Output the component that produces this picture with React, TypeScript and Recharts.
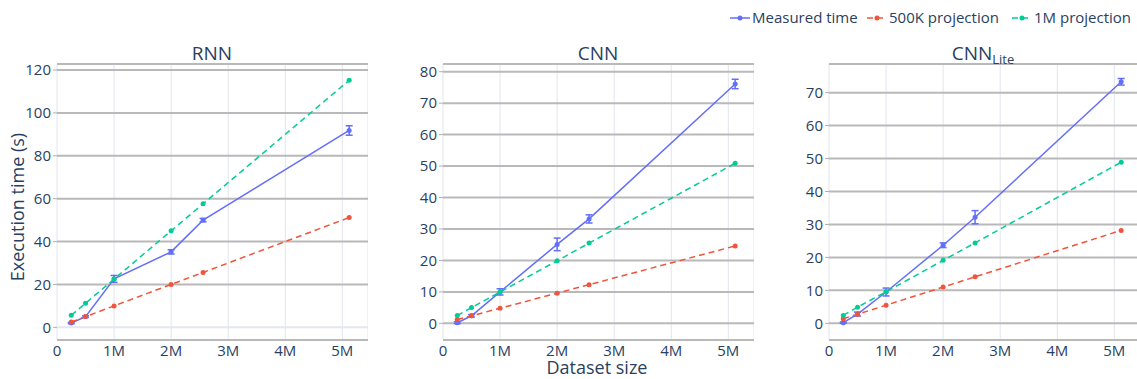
import React from 'react';
import { LineChart, Line, XAxis, YAxis, CartesianGrid, ErrorBar } from 'recharts';

// ---- data ----
const datasetSizesM = [0.25, 0.5, 1, 2, 2.56, 5.12];
const xTicks = [0, 1, 2, 3, 4, 5];
const seriesNames = ['Measured time', '500K projection', '1M projection'];
const seriesColors = ['#636efa', '#EF553B', '#00cc96'];
const subplotTitles = ['RNN', 'CNN', 'CNN'];
const liteSubscript = 'Lite';
const yAxisTitle = 'Execution time (s)';
const xAxisTitle = 'Dataset size';

const rnnMeasured = [2.0, 5.0, 22.6, 35.2, 50.0, 91.8];
const rnnError = [0.3, 0.4, 1.6, 1.0, 0.8, 2.2];
const rnn500K = [2.5, 5.0, 10.0, 20.0, 25.6, 51.2];
const rnn1M = [5.63, 11.25, 22.5, 45.0, 57.6, 115.2];
const rnnTicks = [0, 20, 40, 60, 80, 100, 120];

const cnnMeasured = [0.2, 2.4, 10.0, 25.1, 33.2, 76.1];
const cnnError = [0.3, 0.4, 1.0, 2.0, 1.3, 1.5];
const cnn500K = [1.2, 2.4, 4.8, 9.6, 12.3, 24.6];
const cnn1M = [2.5, 5.0, 9.95, 19.9, 25.5, 50.9];
const cnnTicks = [0, 10, 20, 30, 40, 50, 60, 70, 80];

const liteMeasured = [0.2, 2.8, 9.5, 23.7, 32.2, 73.3];
const liteError = [0.2, 0.6, 1.2, 0.7, 2.0, 1.0];
const lite500K = [1.4, 2.75, 5.5, 11.0, 14.1, 28.2];
const lite1M = [2.4, 4.9, 9.55, 19.1, 24.4, 48.9];
const liteTicks = [0, 10, 20, 30, 40, 50, 60, 70];

const FONT = '"Open Sans", "Noto Sans", sans-serif';
const TEXT = '#2a3f5f';

function buildRows(measured: number[], err: number[], p500: number[], p1m: number[]) {
  return datasetSizesM.map((x, i) => ({ x, measured: measured[i], err: err[i], p500: p500[i], p1m: p1m[i] }));
}

const fmtX = (v: number) => (v === 0 ? '0' : `${v}M`);

function Subplot(props: { left: number; rows: any[]; yTicks: number[]; yDomain: [number, number]; lightZero?: boolean }) {
  const { left, rows, yTicks, yDomain, lightZero } = props;
  return (
    <div style={{ position: 'absolute', left, top: 0 }}>
      <LineChart width={361} height={379} data={rows} margin={{ top: 64, right: 0, bottom: 0, left: 0 }}>
        <CartesianGrid horizontal={false} stroke="#e1e5ed" strokeWidth={1} />
        <CartesianGrid
          vertical={false}
          stroke="#b9b9b9"
          strokeWidth={2}
          horizontal={
            lightZero
              ? (p: any) => (
                  <line
                    key={p.key}
                    x1={p.x1}
                    y1={p.y1}
                    x2={p.x2}
                    y2={p.y2}
                    stroke={p.index === 0 ? '#e4e7ee' : '#b9b9b9'}
                    strokeWidth={2}
                  />
                )
              : true
          }
        />
        <XAxis
          type="number"
          dataKey="x"
          domain={[0, 5.45]}
          ticks={xTicks}
          interval={0}
          allowDataOverflow
          tickFormatter={fmtX}
          axisLine={false}
          tickLine={false}
          tickSize={0}
          tickMargin={5}
          height={39}
          tick={{ fill: TEXT, fontSize: 15, fontFamily: FONT }}
        />
        <YAxis
          type="number"
          domain={yDomain}
          ticks={yTicks}
          interval={0}
          allowDataOverflow
          width={50}
          axisLine={false}
          tickSize={4}
          tickMargin={2}
          tickLine={{ stroke: '#b0b0b0' }}
          tick={{ fill: TEXT, fontSize: 15, fontFamily: FONT }}
        />
        <Line
          dataKey="measured"
          stroke={seriesColors[0]}
          strokeWidth={1.5}
          dot={{ r: 2.5, fill: seriesColors[0], stroke: 'none' }}
          isAnimationActive={false}
        >
          <ErrorBar dataKey="err" direction="y" width={3.5} stroke={seriesColors[0]} strokeWidth={1.5} />
        </Line>
        <Line
          dataKey="p500"
          stroke={seriesColors[1]}
          strokeWidth={1.5}
          strokeDasharray="6 4"
          dot={{ r: 2.5, fill: seriesColors[1], stroke: 'none' }}
          isAnimationActive={false}
        />
        <Line
          dataKey="p1m"
          stroke={seriesColors[2]}
          strokeWidth={1.5}
          strokeDasharray="6 4"
          dot={{ r: 2.5, fill: seriesColors[2], stroke: 'none' }}
          isAnimationActive={false}
        />
      </LineChart>
    </div>
  );
}

function Overlay() {
  const legendX = [730, 867, 1012];
  return (
    <svg width={1137} height={379} style={{ position: 'absolute', left: 0, top: 0, pointerEvents: 'none' }}>
      {seriesNames.map((name, i) => (
        <g key={name}>
          <line
            x1={legendX[i]}
            x2={legendX[i] + 20}
            y1={18}
            y2={18}
            stroke={seriesColors[i]}
            strokeWidth={1.5}
            strokeDasharray={i === 0 ? undefined : '6 4'}
          />
          <circle cx={legendX[i] + 10} cy={18} r={2.5} fill={seriesColors[i]} />
          <text x={legendX[i] + 22} y={23} fontSize={15} fontFamily={FONT} fill={TEXT}>
            {name}
          </text>
        </g>
      ))}
      <text x={212} y={60} textAnchor="middle" fontSize={19} fontFamily={FONT} fill={TEXT}>
        {subplotTitles[0]}
      </text>
      <text x={598} y={60} textAnchor="middle" fontSize={19} fontFamily={FONT} fill={TEXT}>
        {subplotTitles[1]}
      </text>
      <text x={983} y={60} textAnchor="middle" fontSize={19} fontFamily={FONT} fill={TEXT}>
        {subplotTitles[2]}
        <tspan fontSize={13} dy={4}>
          {liteSubscript}
        </tspan>
      </text>
      <text
        x={0}
        y={0}
        transform="translate(24,207) rotate(-90)"
        textAnchor="middle"
        fontSize={18}
        fontFamily={FONT}
        fill={TEXT}
      >
        {yAxisTitle}
      </text>
      <text x={597} y={374} textAnchor="middle" fontSize={18} fontFamily={FONT} fill={TEXT}>
        {xAxisTitle}
      </text>
    </svg>
  );
}

export default function App() {
  return (
    <div
      style={{
        position: 'absolute',
        left: 0,
        top: 0,
        width: 1137,
        height: 379,
        overflow: 'hidden',
        background: '#fff',
        fontFamily: FONT,
      }}
    >
      <Subplot left={7} rows={buildRows(rnnMeasured, rnnError, rnn500K, rnn1M)} yTicks={rnnTicks} yDomain={[-5.9, 122.8]} lightZero />
      <Subplot left={393} rows={buildRows(cnnMeasured, cnnError, cnn500K, cnn1M)} yTicks={cnnTicks} yDomain={[-5.3, 82.45]} />
      <Subplot left={779} rows={buildRows(liteMeasured, liteError, lite500K, lite1M)} yTicks={liteTicks} yDomain={[-5.07, 78.7]} />
      <Overlay />
    </div>
  );
}
